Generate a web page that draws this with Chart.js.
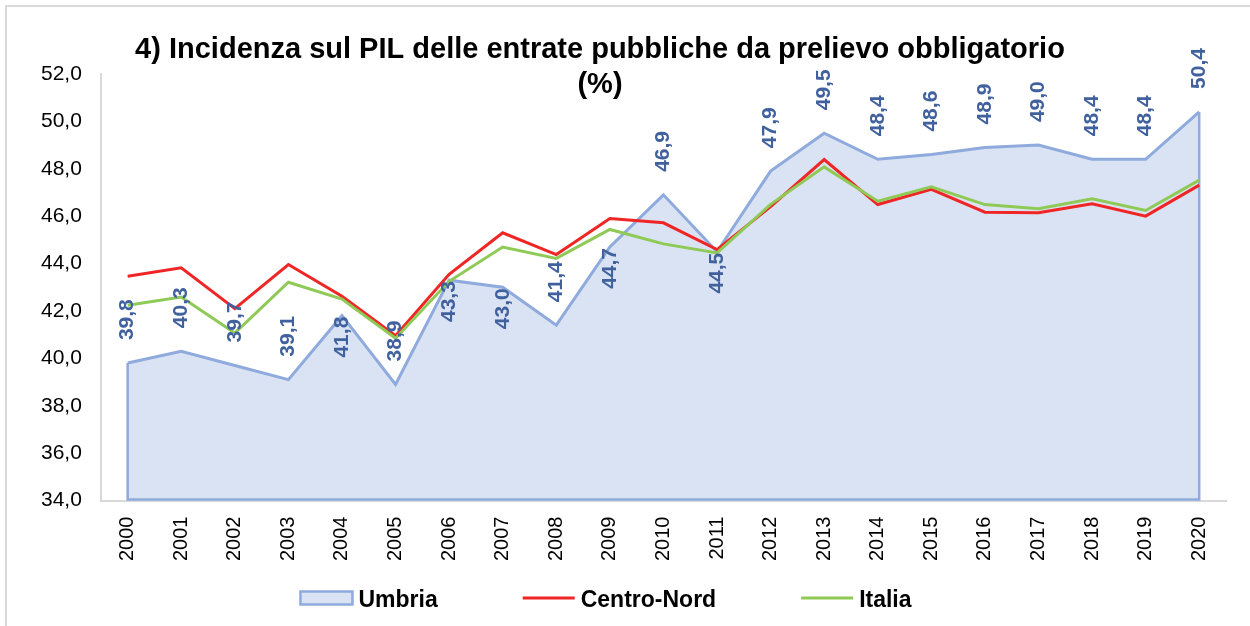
<!DOCTYPE html>
<html>
<head>
<meta charset="utf-8">
<script src="https://cdn.jsdelivr.net/npm/chart.js@4/dist/chart.umd.min.js"></script>
<style>
    body { margin: 0; background: #fff; overflow: hidden; }
    #frame { position: absolute; left: 5px; top: 5px; width: 1300px; height: 700px; border: 2px solid #d9d9d9; }
    #chart { position: absolute; left: 0; top: 0; }
</style>
</head>
<body>
<div id="frame"></div>
<canvas id="chart" width="1250" height="626"></canvas>
<script>
var years = ['2000', '2001', '2002', '2003', '2004', '2005', '2006', '2007', '2008', '2009', '2010',
    '2011', '2012', '2013', '2014', '2015', '2016', '2017', '2018', '2019', '2020'];

// Umbria (area)
var umbria = [39.8, 40.3, 39.7, 39.1, 41.8, 38.9, 43.3, 43.0, 41.4, 44.7, 46.9,
    44.5, 47.9, 49.5, 48.4, 48.6, 48.9, 49.0, 48.4, 48.4, 50.4];

// Centro-Nord
var centroNord = [43.46, 43.82, 42.1, 43.96, 42.62, 40.95, 43.55, 45.3, 44.38, 45.9, 45.72,
    44.59, 46.4, 48.39, 46.49, 47.13, 46.17, 46.14, 46.52, 46.0, 47.31];

// Italia
var italia = [42.24, 42.59, 41.07, 43.21, 42.5, 40.85, 43.25, 44.7, 44.22, 45.44, 44.83,
    44.45, 46.5, 48.08, 46.63, 47.24, 46.49, 46.31, 46.73, 46.24, 47.52];

var yTicks = [34, 36, 38, 40, 42, 44, 46, 48, 50, 52];

var titleLines = ['4) Incidenza sul PIL delle entrate pubbliche da prelievo obbligatorio', '(%)'];

// etichette di Umbria messe sotto il punto
var labelsBelow = [4, 6, 7, 9, 11];

var FONT = '"Liberation Sans", Arial, sans-serif';

function fmt(v) {
    return v.toFixed(1).replace('.', ',');
}

// titolo su due righe
var titlePlugin = {
    id: 'titolo',
    afterDraw: function (chart) {
        var ctx = chart.ctx;
        ctx.save();
        ctx.fillStyle = '#000';
        ctx.font = 'bold 29px ' + FONT;
        ctx.textAlign = 'center';
        ctx.textBaseline = 'alphabetic';
        ctx.fillText(titleLines[0], 600, 58);
        ctx.fillText(titleLines[1], 600, 93);
        ctx.restore();
    }
};

// bordo dell'area (lati e base) come in Excel
var areaEdges = {
    id: 'areaEdges',
    afterDatasetDraw: function (chart, args) {
        if (args.index !== 0) return;
        var pts = args.meta.data;
        var ds = chart.data.datasets[0];
        var base = chart.scales.y.getPixelForValue(chart.scales.y.min);
        var first = pts[0], last = pts[pts.length - 1];
        var ctx = chart.ctx;
        ctx.save();
        ctx.strokeStyle = ds.borderColor;
        ctx.lineWidth = 2.5;
        ctx.beginPath();
        ctx.moveTo(first.x, first.y);
        ctx.lineTo(first.x, base - 1);
        ctx.lineTo(last.x, base - 1);
        ctx.lineTo(last.x, last.y);
        ctx.stroke();
        ctx.restore();
    }
};

// etichette dei valori, ruotate
var valueLabels = {
    id: 'valueLabels',
    afterDatasetsDraw: function (chart) {
        var meta = chart.getDatasetMeta(0);
        var values = chart.data.datasets[0].data;
        var ctx = chart.ctx;
        ctx.save();
        ctx.font = 'bold 21px ' + FONT;
        ctx.fillStyle = '#41619e';
        ctx.textBaseline = 'middle';
        meta.data.forEach(function (pt, i) {
            var below = labelsBelow.indexOf(i) !== -1;
            ctx.save();
            ctx.translate(pt.x, below ? pt.y + 1 : pt.y - 23);
            ctx.rotate(-Math.PI / 2);
            ctx.textAlign = below ? 'right' : 'left';
            ctx.fillText(fmt(values[i]), 0, 0);
            ctx.restore();
        });
        ctx.restore();
    }
};

// legenda in basso
var legendPlugin = {
    id: 'legenda',
    afterDraw: function (chart) {
        var ctx = chart.ctx;
        var sets = chart.data.datasets;
        var swatch = 52, gap = 6, spacing = 85, y = 598;
        ctx.save();
        ctx.font = 'bold 23px ' + FONT;
        var widths = sets.map(function (ds) {
            return swatch + gap + ctx.measureText(ds.label).width;
        });
        var total = widths.reduce(function (a, b) { return a + b; }, 0) + spacing * (sets.length - 1);
        var x = 606 - total / 2;
        sets.forEach(function (ds, i) {
            if (ds.fill) {
                ctx.fillStyle = ds.backgroundColor;
                ctx.fillRect(x, y - 6.5, swatch, 13);
                ctx.strokeStyle = ds.borderColor;
                ctx.lineWidth = 2.5;
                ctx.strokeRect(x, y - 6.5, swatch, 13);
            } else {
                ctx.strokeStyle = ds.borderColor;
                ctx.lineWidth = ds.borderWidth;
                ctx.beginPath();
                ctx.moveTo(x, y);
                ctx.lineTo(x + swatch, y);
                ctx.stroke();
            }
            ctx.fillStyle = '#000';
            ctx.textBaseline = 'alphabetic';
            ctx.textAlign = 'left';
            ctx.fillText(ds.label, x + swatch + gap, y + 9);
            x += widths[i] + spacing;
        });
        ctx.restore();
    }
};

var data = {
    labels: years,
    datasets: [
        {
            label: 'Umbria',
            data: umbria,
            borderColor: '#8faadc',
            backgroundColor: '#dae3f3',
            borderWidth: 3,
            fill: 'start',
            order: 2
        },
        {
            label: 'Centro-Nord',
            data: centroNord,
            borderColor: '#f02525',
            borderWidth: 3,
            fill: false,
            order: 1
        },
        {
            label: 'Italia',
            data: italia,
            borderColor: '#8fca57',
            borderWidth: 3,
            fill: false,
            order: 0
        }
    ]
};

var config = {
    type: 'line',
    data: data,
    options: {
        responsive: false,
        animation: false,
        devicePixelRatio: 1,
        layout: {
            padding: { top: 74, left: 22, right: 24, bottom: 49 }
        },
        elements: {
            line: { tension: 0, borderJoinStyle: 'miter' },
            point: { radius: 0, hoverRadius: 0 }
        },
        plugins: {
            legend: { display: false },
            title: { display: false },
            tooltip: { enabled: false }
        },
        scales: {
            x: {
                offset: true,
                grid: { display: false, drawTicks: false },
                border: { display: true, color: '#d9d9d9', width: 2 },
                ticks: {
                    color: '#000',
                    font: { family: FONT, size: 20 },
                    minRotation: 90,
                    maxRotation: 90,
                    padding: 16,
                    autoSkip: false
                }
            },
            y: {
                min: 34,
                max: 52,
                afterBuildTicks: function (axis) {
                    axis.ticks = yTicks.map(function (v) { return { value: v }; });
                },
                grid: { display: false, drawTicks: false },
                border: { display: true, color: '#d9d9d9', width: 2 },
                ticks: {
                    color: '#000',
                    font: { family: FONT, size: 21 },
                    padding: 19,
                    callback: function (v) { return fmt(v); }
                }
            }
        }
    },
    plugins: [areaEdges, valueLabels, titlePlugin, legendPlugin]
};

new Chart(document.getElementById('chart'), config);
</script>
</body>
</html>
